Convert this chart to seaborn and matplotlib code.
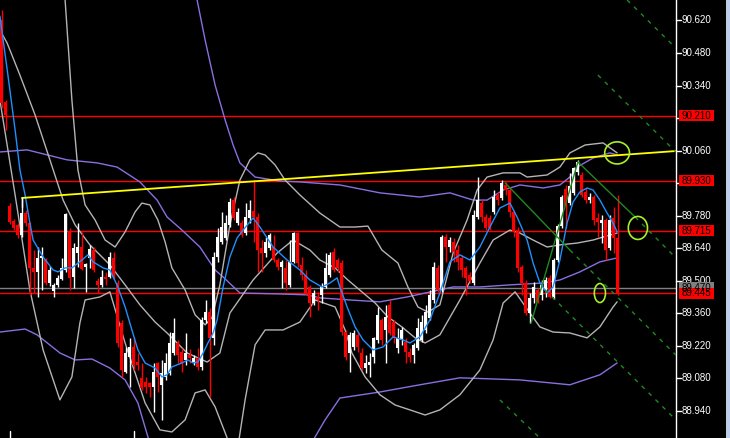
import numpy as np
import pandas as pd
import seaborn as sns
import matplotlib
matplotlib.use("Agg")
import matplotlib.pyplot as plt
import matplotlib.transforms as mtrans
from matplotlib.patches import Ellipse, Rectangle

# candles, oldest first
opens = [90.622, 90.269, 89.822, 89.757, 89.740, 89.697, 89.791, 89.748, 89.555, 89.538,
         89.598, 89.594, 89.490, 89.456, 89.482, 89.508, 89.546, 89.710, 89.516, 89.620,
         89.645, 89.559, 89.598, 89.632, 89.499, 89.482, 89.516, 89.516, 89.598, 89.490,
         89.318, 89.107, 89.172, 89.215, 89.150, 89.082, 89.064, 89.060, 89.043, 89.146,
         89.052, 89.086, 89.103, 89.189, 89.232, 89.193, 89.159, 89.181, 89.150, 89.168,
         89.129, 89.331, 89.366, 89.254, 89.602, 89.667, 89.684, 89.740, 89.847, 89.748,
         89.748, 89.705, 89.770, 89.800, 89.774, 89.641, 89.619, 89.641, 89.645, 89.589,
         89.559, 89.555, 89.482, 89.581, 89.705, 89.568, 89.525, 89.473, 89.404, 89.430,
         89.439, 89.473, 89.525, 89.624, 89.589, 89.576, 89.280, 89.189, 89.215, 89.267,
         89.189, 89.124, 89.138, 89.172, 89.245, 89.331, 89.288, 89.396, 89.323, 89.211,
         89.245, 89.237, 89.193, 89.181, 89.211, 89.245, 89.288, 89.340, 89.417, 89.555,
         89.460, 89.688, 89.645, 89.667, 89.632, 89.598, 89.555, 89.525, 89.490, 89.774,
         89.834, 89.774, 89.770, 89.796, 89.869, 89.856, 89.912, 89.890, 89.796, 89.718,
         89.559, 89.490, 89.361, 89.426, 89.460, 89.439, 89.460, 89.512, 89.430, 89.589,
         89.735, 89.895, 89.834, 89.878, 89.968, 89.955, 89.882, 89.847, 89.860, 89.770,
         89.748, 89.761, 89.641, 89.770, 89.684]
highs = [90.665, 90.278, 89.834, 89.766, 89.748, 89.860, 89.804, 89.753, 89.632, 89.645,
         89.645, 89.598, 89.563, 89.490, 89.525, 89.598, 89.791, 89.727, 89.662, 89.748,
         89.710, 89.576, 89.654, 89.645, 89.512, 89.546, 89.538, 89.624, 89.624, 89.503,
         89.331, 89.215, 89.254, 89.258, 89.189, 89.146, 89.086, 89.064, 89.146, 89.150,
         89.159, 89.189, 89.280, 89.340, 89.245, 89.211, 89.275, 89.206, 89.181, 89.211,
         89.344, 89.417, 89.383, 89.624, 89.727, 89.796, 89.783, 89.856, 89.860, 89.813,
         89.761, 89.834, 89.847, 89.933, 89.791, 89.675, 89.688, 89.705, 89.697, 89.598,
         89.589, 89.589, 89.675, 89.710, 89.710, 89.602, 89.546, 89.482, 89.460, 89.452,
         89.490, 89.619, 89.624, 89.641, 89.598, 89.589, 89.288, 89.280, 89.288, 89.280,
         89.211, 89.181, 89.189, 89.258, 89.387, 89.340, 89.396, 89.417, 89.331, 89.297,
         89.301, 89.254, 89.211, 89.232, 89.340, 89.353, 89.396, 89.460, 89.581, 89.568,
         89.697, 89.701, 89.688, 89.684, 89.654, 89.611, 89.563, 89.538, 89.804, 89.946,
         89.847, 89.787, 89.783, 89.890, 89.882, 89.933, 89.925, 89.903, 89.804, 89.731,
         89.568, 89.503, 89.447, 89.495, 89.469, 89.503, 89.516, 89.525, 89.598, 89.744,
         89.869, 89.912, 89.964, 89.989, 90.020, 89.968, 89.899, 89.878, 89.869, 89.791,
         89.783, 89.770, 89.783, 89.817, 89.869]
lows = [90.243, 90.149, 89.744, 89.718, 89.684, 89.688, 89.735, 89.439, 89.447, 89.430,
        89.460, 89.482, 89.477, 89.430, 89.473, 89.503, 89.538, 89.460, 89.469, 89.559,
        89.546, 89.452, 89.555, 89.538, 89.447, 89.473, 89.482, 89.512, 89.508, 89.215,
        89.086, 89.103, 89.043, 89.116, 89.116, 89.030, 89.017, 89.000, 88.935, 89.021,
        88.901, 89.073, 89.095, 89.181, 89.146, 89.107, 89.138, 89.146, 89.138, 89.116,
        89.116, 89.318, 89.000, 89.224, 89.581, 89.658, 89.675, 89.731, 89.761, 89.740,
        89.688, 89.697, 89.748, 89.667, 89.538, 89.538, 89.602, 89.632, 89.581, 89.546,
        89.469, 89.460, 89.473, 89.576, 89.559, 89.503, 89.439, 89.344, 89.396, 89.374,
        89.404, 89.469, 89.516, 89.538, 89.538, 89.267, 89.159, 89.107, 89.202, 89.193,
        89.116, 89.103, 89.086, 89.146, 89.232, 89.224, 89.146, 89.267, 89.232, 89.189,
        89.224, 89.146, 89.150, 89.146, 89.202, 89.237, 89.275, 89.331, 89.404, 89.452,
        89.452, 89.581, 89.624, 89.581, 89.546, 89.516, 89.439, 89.490, 89.482, 89.766,
        89.753, 89.718, 89.718, 89.787, 89.826, 89.847, 89.869, 89.774, 89.688, 89.538,
        89.439, 89.353, 89.318, 89.404, 89.404, 89.417, 89.430, 89.426, 89.421, 89.581,
        89.727, 89.727, 89.826, 89.869, 89.955, 89.860, 89.834, 89.834, 89.740, 89.688,
        89.662, 89.589, 89.632, 89.619, 89.439]
closes = [90.265, 90.213, 89.753, 89.727, 89.697, 89.791, 89.748, 89.555, 89.538, 89.598,
          89.607, 89.490, 89.546, 89.482, 89.512, 89.555, 89.787, 89.512, 89.641, 89.645,
          89.551, 89.572, 89.637, 89.546, 89.482, 89.516, 89.508, 89.602, 89.516, 89.232,
          89.116, 89.189, 89.215, 89.138, 89.138, 89.039, 89.043, 89.043, 89.107, 89.086,
          89.103, 89.146, 89.232, 89.275, 89.181, 89.146, 89.189, 89.168, 89.168, 89.129,
          89.331, 89.366, 89.254, 89.602, 89.688, 89.731, 89.748, 89.839, 89.770, 89.796,
          89.697, 89.774, 89.804, 89.774, 89.632, 89.619, 89.667, 89.697, 89.589, 89.559,
          89.581, 89.490, 89.581, 89.705, 89.576, 89.525, 89.447, 89.404, 89.447, 89.417,
          89.473, 89.555, 89.611, 89.546, 89.555, 89.280, 89.172, 89.267, 89.275, 89.215,
          89.124, 89.146, 89.150, 89.254, 89.353, 89.245, 89.344, 89.275, 89.254, 89.254,
          89.288, 89.193, 89.172, 89.224, 89.297, 89.323, 89.366, 89.439, 89.559, 89.460,
          89.688, 89.645, 89.675, 89.624, 89.581, 89.546, 89.512, 89.499, 89.783, 89.847,
          89.774, 89.727, 89.727, 89.860, 89.847, 89.920, 89.890, 89.796, 89.710, 89.555,
          89.490, 89.361, 89.426, 89.473, 89.409, 89.482, 89.503, 89.430, 89.589, 89.735,
          89.860, 89.822, 89.908, 89.985, 90.011, 89.869, 89.847, 89.860, 89.761, 89.753,
          89.761, 89.632, 89.761, 89.684, 89.445]

# indicator lines: (bar position, price)
ma_fast = [(-0.4, 90.639), (1.6, 90.385), (3.4, 90.149), (4.6, 89.977), (5.9, 89.869), (7.1, 89.748),
           (7.9, 89.675), (10.4, 89.602), (12.9, 89.546), (14.1, 89.538), (15.9, 89.555), (17.6, 89.555),
           (20.1, 89.589), (21.6, 89.611), (22.9, 89.581), (25.4, 89.555), (27.1, 89.546), (29.1, 89.473),
           (30.9, 89.387), (32.6, 89.288), (34.1, 89.202), (35.9, 89.146), (38.4, 89.124), (40.1, 89.086),
           (41.4, 89.095), (42.6, 89.129), (45.1, 89.146), (46.6, 89.159), (47.9, 89.146), (49.1, 89.150),
           (50.4, 89.189), (51.6, 89.232), (52.9, 89.275), (53.9, 89.331), (55.4, 89.473), (57.1, 89.602),
           (58.9, 89.684), (60.4, 89.718), (62.9, 89.770), (64.6, 89.731), (67.9, 89.645), (71.4, 89.589),
           (74.6, 89.546), (77.1, 89.503), (80.1, 89.473), (82.1, 89.490), (83.9, 89.512), (84.6, 89.473),
           (86.4, 89.387), (88.4, 89.301), (90.4, 89.245), (92.9, 89.202), (95.4, 89.215), (97.9, 89.258),
           (100.4, 89.245), (102.1, 89.232), (104.6, 89.258), (107.1, 89.331), (109.6, 89.447), (112.1, 89.581),
           (114.6, 89.611), (117.1, 89.589), (119.6, 89.645), (122.1, 89.731), (124.6, 89.813), (127.1, 89.834),
           (128.9, 89.774), (131.4, 89.675), (132.9, 89.576), (134.6, 89.490), (136.4, 89.447), (137.9, 89.473),
           (139.6, 89.589), (141.4, 89.748), (142.9, 89.839), (144.6, 89.882), (146.4, 89.899), (147.9, 89.890),
           (149.6, 89.847), (151.4, 89.791), (152.9, 89.748), (153.9, 89.710)]

bb_upper = [(15.1, 90.880), (15.9, 90.708), (17.6, 90.278), (19.1, 89.977), (20.9, 89.826), (23.4, 89.761),
            (25.9, 89.675), (28.4, 89.645), (30.9, 89.710), (33.4, 89.796), (35.1, 89.834), (37.1, 89.826),
            (39.1, 89.761), (40.9, 89.667), (42.6, 89.555), (45.9, 89.460), (48.4, 89.353), (50.9, 89.310),
            (52.6, 89.340), (54.6, 89.482), (57.1, 89.740), (59.6, 89.933), (62.1, 90.020), (64.1, 90.050),
            (65.9, 90.041), (68.4, 89.998), (70.9, 89.933), (74.6, 89.869), (79.6, 89.791), (84.6, 89.731),
            (88.4, 89.731), (91.6, 89.735), (95.1, 89.632), (99.1, 89.576), (101.6, 89.473), (104.1, 89.387),
            (106.6, 89.365), (109.6, 89.396), (112.9, 89.619), (116.4, 89.761), (118.9, 89.890), (121.4, 89.946),
            (125.4, 89.964), (129.6, 89.964), (131.4, 89.946), (136.4, 89.955), (139.6, 89.989), (142.1, 90.050),
            (145.9, 90.084), (150.4, 90.093), (153.9, 90.050)]
bb_middle = [(-0.4, 90.579), (1.4, 90.523), (4.6, 90.385), (8.4, 90.213), (12.1, 90.020), (15.4, 89.847),
             (18.4, 89.740), (22.1, 89.654), (27.1, 89.568), (30.9, 89.482), (34.6, 89.396), (38.4, 89.322),
             (41.4, 89.275), (46.4, 89.189), (51.4, 89.150), (54.6, 89.189), (57.1, 89.361), (62.9, 89.503),
             (68.9, 89.619), (72.9, 89.675), (77.1, 89.632), (79.6, 89.589), (83.4, 89.555), (86.6, 89.503),
             (90.1, 89.452), (93.4, 89.404), (96.6, 89.344), (100.1, 89.301), (103.4, 89.254), (105.9, 89.232),
             (109.6, 89.267), (114.6, 89.417), (119.6, 89.576), (122.9, 89.675), (127.1, 89.718), (129.6, 89.705),
             (132.9, 89.675), (136.4, 89.645), (139.6, 89.654), (143.9, 89.662), (147.9, 89.675), (150.4, 89.688),
             (153.9, 89.705)]
bb_lower = [(-0.4, 90.278), (1.6, 90.063), (3.4, 89.869), (7.1, 89.460), (10.4, 89.202), (14.6, 88.987),
            (17.6, 89.086), (19.6, 89.318), (20.9, 89.417), (24.6, 89.430), (27.1, 89.452), (30.9, 89.232),
            (35.9, 88.974), (39.6, 88.858), (42.6, 88.849), (45.9, 88.901), (48.4, 89.017), (50.9, 89.030),
            (53.4, 88.957), (56.6, 88.815), (58.6, 88.729), (60.9, 88.987), (63.4, 89.224), (65.9, 89.288),
            (70.4, 89.288), (74.6, 89.322), (78.4, 89.417), (83.4, 89.387), (85.9, 89.288), (87.6, 89.189),
            (90.9, 89.086), (94.6, 89.009), (98.4, 88.965), (102.1, 88.944), (105.9, 88.922), (109.6, 88.944),
            (114.6, 89.009), (119.6, 89.116), (122.9, 89.245), (125.4, 89.404), (128.4, 89.452), (132.1, 89.361),
            (134.6, 89.301), (137.9, 89.279), (142.1, 89.275), (146.4, 89.254), (149.6, 89.301), (152.9, 89.387),
            (153.9, 89.409)]

slow_upper = [(47.1, 90.837), (48.9, 90.708), (50.9, 90.536), (53.4, 90.342), (55.9, 90.192), (57.9, 90.084),
              (59.6, 90.007), (63.4, 89.946), (69.6, 89.929), (74.6, 89.925), (84.6, 89.912), (94.6, 89.878),
              (104.6, 89.860), (112.1, 89.878), (117.9, 89.847), (121.4, 89.847), (125.4, 89.890), (129.6, 89.912),
              (135.4, 89.899), (139.6, 89.912), (142.1, 89.946), (143.9, 89.989), (147.9, 90.028), (152.1, 90.050),
              (153.9, 90.041)]
slow_middle = [(-0.4, 90.054), (6.4, 90.063), (16.4, 90.020), (23.9, 90.007), (28.9, 89.989), (34.6, 89.925),
               (38.9, 89.847), (41.4, 89.774), (45.1, 89.718), (49.6, 89.645), (53.4, 89.546), (55.4, 89.516),
               (59.6, 89.447), (69.6, 89.443), (76.4, 89.439), (79.6, 89.426), (87.1, 89.417), (94.6, 89.409),
               (101.4, 89.430), (112.9, 89.473), (119.6, 89.473), (127.1, 89.482), (135.4, 89.490), (139.6, 89.503),
               (144.6, 89.538), (149.6, 89.581), (153.9, 89.598)]
slow_lower = [(-0.4, 89.279), (5.9, 89.292), (8.9, 89.267), (14.6, 89.189), (18.4, 89.159), (22.6, 89.163),
              (27.1, 89.124), (30.9, 89.073), (34.1, 88.974), (36.6, 88.828), (39.6, 88.686), (54.6, 88.384),
              (72.1, 88.643), (80.9, 88.901), (84.6, 88.995), (94.6, 89.021), (104.6, 89.052), (114.6, 89.082),
              (129.6, 89.073), (142.1, 89.052), (149.6, 89.095), (153.9, 89.146)]

# drawn objects
trend_line = [(5.1, 89.856), (168.6, 90.058)]
fork_solid = [[(144.1, 90.011), (158.4, 89.774)], [(125.9, 89.921), (142.1, 89.632)],
              [(132.4, 89.318), (144.1, 90.011)]]
fork_dashed = [[(156.4, 90.708), (168.6, 90.501)], [(149.1, 90.385), (168.6, 90.054)],
               [(158.4, 89.774), (168.6, 89.598)], [(142.1, 89.632), (168.6, 89.180)],
               [(135.9, 89.460), (168.6, 88.901)], [(124.6, 88.987), (134.6, 88.823)]]
marks = [(153.9, 90.050, 6.2, 0.095), (159.1, 89.727, 4.8, 0.099), (149.6, 89.447, 2.8, 0.082)]
period_marks = [2, 33]

red_levels = [90.210, 89.930, 89.715, 89.445]
grey_level = 89.470
tick_values = [90.620, 90.480, 90.340, 90.200, 90.060, 89.920, 89.780, 89.640, 89.500,
               89.360, 89.220, 89.080, 88.940]
hidden_ticks = [90.200, 89.920]

sns.set_style("dark", {"axes.facecolor": "black", "figure.facecolor": "black"})
plt.rcParams['font.family'] = ['Liberation Sans', 'DejaVu Sans']

fig = plt.figure(figsize=(7.3, 4.38), dpi=100)
fig.patch.set_facecolor('black')
ax = fig.add_axes([0, 0, 676 / 730, 1])
ax.set_facecolor('black')

bars = pd.DataFrame({'open': opens, 'high': highs, 'low': lows, 'close': closes})
bars['i'] = np.arange(len(bars))
col = np.where(bars['close'] >= bars['open'], 'white', 'red')

for lvl in red_levels:
    ax.axhline(lvl, color='red', lw=1, zorder=1)
ax.axhline(grey_level, color='#808080', lw=1, zorder=1)

lines = [(slow_upper, '#8a6fe0'), (slow_middle, '#8a6fe0'), (slow_lower, '#8a6fe0'),
         (bb_upper, '#b4b4b4'), (bb_middle, '#b4b4b4'), (bb_lower, '#b4b4b4')]
for pts, c in lines:
    d = pd.DataFrame(pts, columns=['x', 'p'])
    sns.lineplot(data=d, x='x', y='p', color=c, lw=1, ax=ax, sort=False, estimator=None, zorder=2)

ax.vlines(bars['i'], bars['low'], bars['high'], colors=col, lw=1, zorder=3)
body = (bars['close'] - bars['open']).abs().clip(lower=0.005)
ax.bar(bars['i'], body, bottom=np.minimum(bars['open'], bars['close']), width=0.72,
       color=col, lw=0, zorder=3)

d = pd.DataFrame(ma_fast, columns=['x', 'p'])
sns.lineplot(data=d, x='x', y='p', color='#1e90ff', lw=1, ax=ax, sort=False, estimator=None, zorder=4)

(x0, y0), (x1, y1) = trend_line
ax.plot([x0, x1], [y0, y1], color='yellow', lw=1.3, zorder=4)
ax.plot([x0, x0], [y0, y0 - 0.04], color='white', lw=1, zorder=4)
for seg in fork_solid:
    ax.plot(*zip(*seg), color='#1f8a1f', lw=1, zorder=4)
for seg in fork_dashed:
    ax.plot(*zip(*seg), color='#1f8a1f', lw=1, ls=(0, (3, 4)), zorder=4)
for cx, cy, w, h in marks:
    ax.add_patch(Ellipse((cx, cy), w, h, fill=False, ec='#a8f02a', lw=1.2, zorder=5))

ax.set_xlim(-0.375, 168.625)
ax.set_ylim(88.823, 90.708)
ax.set_xticks([])
ax.set_yticks([])
ax.set_xlabel('')
ax.set_ylabel('')
for s in ['top', 'left', 'bottom']:
    ax.spines[s].set_visible(False)
ax.spines['right'].set_color('white')
ax.spines['right'].set_linewidth(1)

# small time separators on the bottom edge
trx = mtrans.blended_transform_factory(ax.transData, ax.transAxes)
for b in period_marks:
    ax.plot([b, b], [0, 0.016], color='white', lw=1, transform=trx, clip_on=False)

# right-hand price scale
tr = mtrans.blended_transform_factory(ax.transAxes, ax.transData)
px = 1 / 676
for v in tick_values:
    ax.plot([1, 1 + 5 * px], [v, v], color='white', lw=1, transform=tr, clip_on=False)
    if v in hidden_ticks:
        continue
    ax.text(1 + 6 * px, v, f"{v:.3f}", color='white', fontsize=7, va='center', ha='left',
            transform=tr, clip_on=False)


def price_box(v, fc):
    ax.add_patch(Rectangle((1 + 3 * px, v - 0.0235), 35 * px, 0.047, transform=tr,
                           fc=fc, ec='none', clip_on=False, zorder=6))
    ax.text(1 + 6 * px, v, f"{v:.3f}", color='black', fontsize=7, va='center', ha='left',
            transform=tr, clip_on=False, zorder=7)


price_box(grey_level, '#808080')
for lvl in red_levels:
    price_box(lvl, 'red')

fig.patches.append(Rectangle((726 / 730, 0), 4 / 730, 1, transform=fig.transFigure,
                             fc='#bcd0e8', ec='none'))

fig.savefig('out.png', dpi=100, facecolor='black')
